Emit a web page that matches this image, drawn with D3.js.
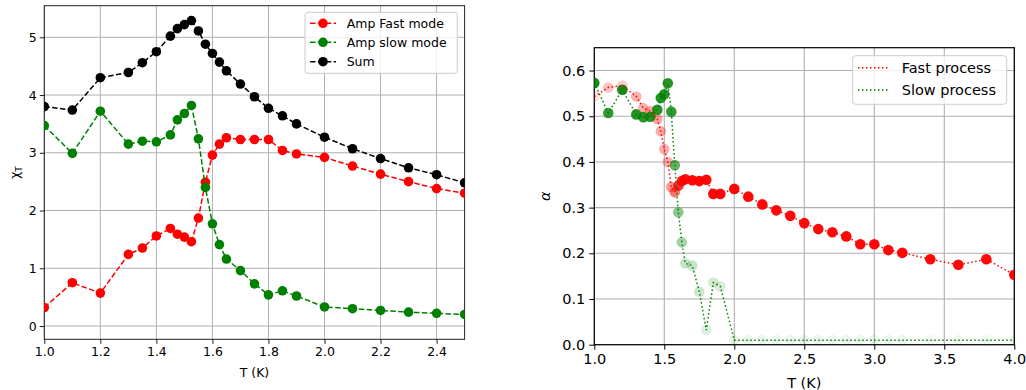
<!DOCTYPE html>
<html><head><meta charset="utf-8">
<script src="https://cdn.jsdelivr.net/npm/d3@7"></script>
<style>
body{margin:0;background:#fff;}
svg{font-family:"DejaVu Sans",sans-serif;}
</style></head>
<body><svg id="c" width="1026" height="390"></svg>
<script>
// ---------- Left panel data ----------
const tempL = [1.0,1.1,1.2,1.3,1.35,1.4,1.45,1.475,1.5,1.525,1.55,1.575,1.6,1.625,1.65,1.7,1.75,1.8,1.85,1.9,2.0,2.1,2.2,2.3,2.4,2.5];
const ampFast = [0.32,0.75,0.57,1.24,1.35,1.56,1.69,1.59,1.54,1.46,1.87,2.49,2.96,3.15,3.26,3.23,3.23,3.23,3.04,2.98,2.92,2.77,2.63,2.50,2.38,2.30];
const ampSlow = [3.47,2.99,3.72,3.15,3.20,3.19,3.31,3.57,3.68,3.82,3.24,2.40,1.77,1.41,1.16,0.96,0.73,0.54,0.61,0.52,0.33,0.30,0.27,0.24,0.22,0.20];
const ampSum  = [3.80,3.74,4.30,4.39,4.56,4.75,5.02,5.15,5.22,5.29,5.11,4.88,4.72,4.57,4.42,4.19,3.97,3.77,3.64,3.50,3.27,3.07,2.90,2.74,2.62,2.48];
const leftSeries = ["Amp Fast mode","Amp slow mode","Sum"];
const leftXTicks = [1.0,1.2,1.4,1.6,1.8,2.0,2.2,2.4];
const leftYTicks = [0,1,2,3,4,5];

// ---------- Right panel data ----------
const tempR = [1.0,1.1,1.2,1.3,1.35,1.4,1.45,1.475,1.5,1.525,1.55,1.575,1.6,1.625,1.65,1.7,1.75,1.8,1.85,1.9,2.0,2.1,2.2,2.3,2.4,2.5,2.6,2.7,2.8,2.9,3.0,3.1,3.2,3.4,3.6,3.8,4.0];
const alphaFast = [0.543,0.563,0.567,0.543,0.518,0.511,0.494,0.467,0.428,0.400,0.345,0.334,0.348,0.358,0.362,0.360,0.358,0.361,0.330,0.330,0.341,0.324,0.307,0.294,0.282,0.266,0.253,0.246,0.237,0.220,0.220,0.207,0.201,0.187,0.175,0.187,0.153];
const alphaSlow = [0.573,0.507,0.558,0.504,0.498,0.499,0.514,0.540,0.548,0.572,0.510,0.393,0.290,0.224,0.178,0.173,0.116,0.032,0.136,0.128,0.010,0.010,0.010,0.010,0.010,0.010,0.010,0.010,0.010,0.010,0.010,0.010,0.010,0.010,0.010,0.010,0.010];
const opacityFast = [0.12,0.24,0.2,0.3,0.32,0.35,0.36,0.33,0.32,0.3,0.42,0.55,0.8,0.9,0.95,0.97,0.97,0.97,0.97,0.97,0.97,0.97,0.97,0.97,0.97,0.97,0.97,0.97,0.97,0.97,0.97,0.97,0.97,0.97,0.97,0.97,0.97];
const opacitySlow = [0.9,0.8,0.9,0.85,0.85,0.85,0.85,0.85,0.85,0.85,0.8,0.6,0.45,0.35,0.22,0.22,0.2,0.13,0.17,0.15,0.09,0.08,0.08,0.07,0.07,0.07,0.07,0.07,0.07,0.07,0.07,0.07,0.07,0.06,0.06,0.06,0.06];
const rightSeries = ["Fast process","Slow process"];
const rightXTicks = [1.0,1.5,2.0,2.5,3.0,3.5,4.0];
const rightYTicks = [0.0,0.1,0.2,0.3,0.4,0.5,0.6];

const svg = d3.select("#c");
const GRID = "#b0b0b0";

// ================= LEFT PANEL =================
{
  const L = 44.3, R = 464.6, T = 5.7, B = 339.3;
  const x = d3.scaleLinear().domain([1.0, 2.5]).range([L, R]);
  const y = d3.scaleLinear().domain([-0.23, 5.547]).range([B, T]);
  const g = svg.append("g");
  g.append("clipPath").attr("id","clipL").append("rect").attr("x",L).attr("y",T).attr("width",R-L).attr("height",B-T);
  g.append("g").selectAll("line").data(leftXTicks).join("line")
    .attr("x1",d=>x(d)).attr("x2",d=>x(d)).attr("y1",T).attr("y2",B).attr("stroke",GRID).attr("stroke-width",1);
  g.append("g").selectAll("line").data(leftYTicks).join("line")
    .attr("y1",d=>y(d)).attr("y2",d=>y(d)).attr("x1",L).attr("x2",R).attr("stroke",GRID).attr("stroke-width",1);
  const xa = g.append("g").attr("transform",`translate(0,${B})`)
    .call(d3.axisBottom(x).tickValues(leftXTicks).tickFormat(d3.format(".1f")).tickSize(4.5).tickPadding(3));
  const ya = g.append("g").attr("transform",`translate(${L},0)`)
    .call(d3.axisLeft(y).tickValues(leftYTicks).tickFormat(d3.format("d")).tickSize(4.5).tickPadding(3));
  [xa,ya].forEach(a=>{a.select(".domain").remove();
    a.selectAll("text").attr("font-size",12.5).attr("fill","#000").attr("font-family","DejaVu Sans");
    a.selectAll("line").attr("stroke","#000").attr("stroke-width",0.9);});
  g.append("rect").attr("x",L).attr("y",T).attr("width",R-L).attr("height",B-T)
    .attr("fill","none").attr("stroke","#222").attr("stroke-width",1);

  const series = [
    {name:leftSeries[0], vals:ampFast, color:"#ff0000"},
    {name:leftSeries[1], vals:ampSlow, color:"#008000"},
    {name:leftSeries[2], vals:ampSum, color:"#000000"}
  ];
  const line = d3.line().x(d=>x(d[0])).y(d=>y(d[1]));
  const plot = g.append("g").attr("clip-path","url(#clipL)");
  series.forEach(s=>{
    const pts = tempL.map((t,i)=>[t,s.vals[i]]);
    plot.append("path").attr("d",line(pts)).attr("fill","none").attr("stroke",s.color)
      .attr("stroke-width",1.5).attr("stroke-dasharray","5.5,2.4");
    plot.append("g").selectAll("circle").data(pts).join("circle")
      .attr("cx",d=>x(d[0])).attr("cy",d=>y(d[1])).attr("r",4.8).attr("fill",s.color);
  });
  g.append("text").attr("x",(L+R)/2).attr("y",377).attr("text-anchor","middle").attr("font-size",12.5).text("T (K)");
  const yl = g.append("text").attr("transform",`translate(19,${(T+B)/2}) rotate(-90)`).attr("text-anchor","middle").attr("font-size",12.5);
  yl.append("tspan").text("χ");
  yl.append("tspan").attr("font-size",9).attr("dy",3).text("T");
  const lg = g.append("g");
  lg.append("rect").attr("x",305).attr("y",12.3).attr("width",152.3).attr("height",61).attr("rx",3)
    .attr("fill","#fff").attr("fill-opacity",0.8).attr("stroke","#cccccc").attr("stroke-width",1);
  const ly = [23.3,42.3,61.7];
  series.forEach((s,i)=>{
    lg.append("line").attr("x1",310).attr("x2",336).attr("y1",ly[i]).attr("y2",ly[i])
      .attr("stroke",s.color).attr("stroke-width",1.5).attr("stroke-dasharray","5.5,2.4");
    lg.append("circle").attr("cx",323).attr("cy",ly[i]).attr("r",4.8).attr("fill",s.color);
    lg.append("text").attr("x",346.7).attr("y",ly[i]).attr("dy","0.36em").attr("font-size",12.5).text(s.name);
  });
}

// ================= RIGHT PANEL =================
{
  const L = 594.3, R = 1014.3, T = 47.7, B = 344.7;
  const x = d3.scaleLinear().domain([1.0, 4.0]).range([L, R]);
  const y = d3.scaleLinear().domain([0, 0.65]).range([B, T]);
  const g = svg.append("g");
  g.append("clipPath").attr("id","clipR").append("rect").attr("x",L).attr("y",T).attr("width",R-L).attr("height",B-T);
  g.append("g").selectAll("line").data(rightXTicks).join("line")
    .attr("x1",d=>x(d)).attr("x2",d=>x(d)).attr("y1",T).attr("y2",B).attr("stroke",GRID).attr("stroke-width",1.1);
  g.append("g").selectAll("line").data(rightYTicks).join("line")
    .attr("y1",d=>y(d)).attr("y2",d=>y(d)).attr("x1",L).attr("x2",R).attr("stroke",GRID).attr("stroke-width",1.1);
  const xa = g.append("g").attr("transform",`translate(0,${B})`)
    .call(d3.axisBottom(x).tickValues(rightXTicks).tickFormat(d3.format(".1f")).tickSize(5).tickPadding(4));
  const ya = g.append("g").attr("transform",`translate(${L},0)`)
    .call(d3.axisLeft(y).tickValues(rightYTicks).tickFormat(d3.format(".1f")).tickSize(5).tickPadding(4));
  [xa,ya].forEach(a=>{a.select(".domain").remove();
    a.selectAll("text").attr("font-size",14.5).attr("fill","#000").attr("font-family","DejaVu Sans");
    a.selectAll("line").attr("stroke","#000").attr("stroke-width",1);});
  g.append("rect").attr("x",L).attr("y",T).attr("width",R-L).attr("height",B-T)
    .attr("fill","none").attr("stroke","#000").attr("stroke-width",1.2);

  const series = [
    {name:rightSeries[0], vals:alphaFast, op:opacityFast, color:"#ff0000"},
    {name:rightSeries[1], vals:alphaSlow, op:opacitySlow, color:"#008000"}
  ];
  const line = d3.line().x(d=>x(d[0])).y(d=>y(d[1]));
  const plot = g.append("g").attr("clip-path","url(#clipR)");
  series.forEach(s=>{
    const pts = tempR.map((t,i)=>[t,s.vals[i],s.op[i]]);
    plot.append("g").selectAll("circle").data(pts).join("circle")
      .attr("cx",d=>x(d[0])).attr("cy",d=>y(d[1])).attr("r",5.3).attr("fill",s.color).attr("fill-opacity",d=>d[2]);
  });
  series.forEach(s=>{
    const pts = tempR.map((t,i)=>[t,s.vals[i]]);
    plot.append("path").attr("d",line(pts)).attr("fill","none").attr("stroke",s.color)
      .attr("stroke-width",1.5).attr("stroke-dasharray","1.5,2.5");
  });
  g.append("text").attr("x",(L+R)/2).attr("y",387.5).attr("text-anchor","middle").attr("font-size",14.5).text("T (K)");
  g.append("text").attr("transform",`translate(550,${(T+B)/2}) rotate(-90)`).attr("text-anchor","middle").attr("font-size",14.5).attr("font-style","italic").text("α");
  const lg = g.append("g");
  lg.append("rect").attr("x",852.7).attr("y",55.7).attr("width",154).attr("height",48.6).attr("rx",3)
    .attr("fill","#fff").attr("fill-opacity",0.8).attr("stroke","#cccccc").attr("stroke-width",1);
  const ly = [67.7,90];
  series.forEach((s,i)=>{
    lg.append("line").attr("x1",858).attr("x2",889).attr("y1",ly[i]).attr("y2",ly[i])
      .attr("stroke",s.color).attr("stroke-width",1.5).attr("stroke-dasharray","1.5,2.5");
    lg.append("text").attr("x",901.7).attr("y",ly[i]).attr("dy","0.36em").attr("font-size",14.5).text(s.name);
  });
}
</script></body></html>
